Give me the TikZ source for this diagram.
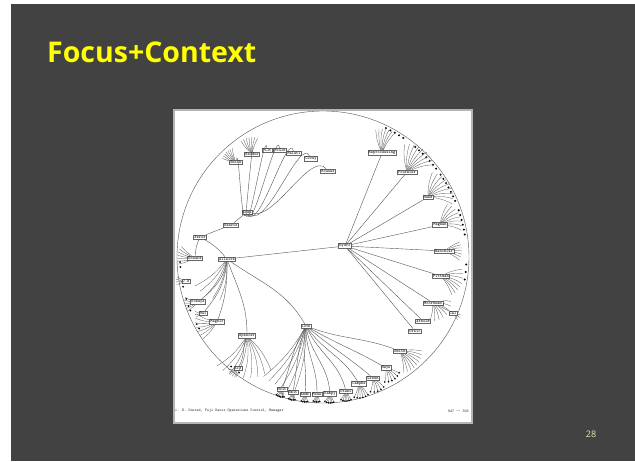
\documentclass[tikz,border=0pt]{standalone}
\usepackage{fontspec}
\newfontfamily\titlefont{Open Sans}
\usetikzlibrary{calc}
\definecolor{slidebg}{HTML}{424242}
\definecolor{titleyellow}{HTML}{FFFF00}
\definecolor{pagenum}{HTML}{E6E6B4}
\definecolor{edgegray}{HTML}{555555}
\definecolor{framegray}{HTML}{B4B4B4}
\newcommand{\myfan}[5]{%
  \foreach \a in {#2} {%
    \coordinate (#1-t\a) at ($(#1)+(\a:#3)$);
    \draw[leaf] (#1) to[bend left=#4] (#1-t\a);
    \ifx#5y\fill[black] (#1-t\a) circle (0.9);\fi
  }}
\begin{document}
\begin{tikzpicture}[x=1pt,y=-1pt,
  lbl/.style={draw=black!60, fill=white, line width=0.35pt, inner sep=0.8pt,
    font=\fontsize{4.2}{4.5}\selectfont\ttfamily, text=black},
  edge/.style={draw=edgegray, line width=0.4pt},
  leaf/.style={draw=edgegray, line width=0.3pt},
  captxt/.style={font=\fontsize{3.9}{4.5}\selectfont\ttfamily, text=black!85, inner sep=0}]
\useasboundingbox (0,0) rectangle (635,461);
\fill[white] (0,0) rectangle (635,461);
\fill[slidebg] (11,4) rectangle (635,461);
\node[anchor=base west, text=titleyellow, font=\titlefont\bfseries\fontsize{28.5}{30}\selectfont, inner sep=0] (title) at (47,62) {Focus+Context};
\node[anchor=base, text=pagenum, font=\titlefont\fontsize{9}{10}\selectfont, inner sep=0] (pg) at (591,437) {28};
% picture frame
\fill[framegray] (173,109) rectangle (473,424);
\fill[white] (175,111) rectangle (471,422);
\coordinate (ctr) at (323,257);
\begin{scope}
\clip (175,111) rectangle (471,422);
\draw[edge] (ctr) circle (146);
% small markers at the rim
\foreach \a in {-64,-62,-60,-58,-56,-50,-48,-46,-44,-42,-40,-38,-35,-33,-31,-29,-27,-25,-23,-19,-17,-15,-13,-11,-9,3,6,9} {
  \fill[black] ($(ctr)+(\a:143.5)$) circle (1.1);
}
\foreach \a in {178,176,170,168,163,160,158,152,150,130,128,126} {
  \fill[black] ($(ctr)+(\a:143)$) circle (1.0);
}
\end{scope}
% nodes
\node[lbl] (hydro) at (345,246) {Hydro};
\node[lbl] (allaire) at (227,259) {Allaire};
\node[lbl] (xerox) at (200,237) {Xerox};
\node[lbl] (howard) at (195,258) {Howard};
\node[lbl] (bearce) at (231,225) {Bearce};
\node[lbl] (ross) at (247,212) {Ross};
\node[lbl] (smitha) at (236,162) {Smith};
\node[lbl] (beddoe) at (252,154) {Beddoe};
\node[lbl] (pilt) at (267,150) {Pilt};
\node[lbl] (mcgin) at (280,150) {McGin};
\node[lbl] (maleti) at (294,153) {Maleti};
\node[lbl] (covey) at (311,159) {Covey};
\node[lbl] (rousse) at (328,171) {Rousse};
\node[lbl] (reproc) at (382,153) {Reprocessing};
\node[lbl] (fournier) at (407,172) {Fournier};
\node[lbl] (hand) at (428,197) {Hand};
\node[lbl] (magnan) at (440,225) {Magnan};
\node[lbl] (hanchier) at (444,251) {Hanchier};
\node[lbl] (pittman) at (441,276) {Pittman};
\node[lbl] (moorbeam) at (433,303) {Moorbeam};
\node[lbl] (cal) at (453,313) {Cal};
\node[lbl] (arnold) at (423,321) {Arnold};
\node[lbl] (orsic) at (415,331) {Orsic};
\node[lbl] (smithb) at (400,351) {Smith};
\node[lbl] (hays) at (386,368) {Hays};
\node[lbl] (green) at (373,378) {Green};
\node[lbl] (camphe) at (359,384) {Camphe};
\node[lbl] (otano) at (346,391) {Otano};
\node[lbl] (kampy) at (330,394) {Kampy};
\node[lbl] (moss) at (317,394) {Moss};
\node[lbl] (andr) at (305,394) {Andr};
\node[lbl] (smit) at (293,392) {Smit};
\node[lbl] (holt) at (282,389) {Holt};
\node[lbl] (love) at (306,326) {Love};
\node[lbl] (spencer) at (247,336) {Spencer};
\node[lbl] (eco) at (238,368) {Eco};
\node[lbl] (magnir) at (217,322) {Magnir};
\node[lbl] (hui) at (203,313) {Hui};
\node[lbl] (kobaya) at (198,302) {Kobaya};
\node[lbl] (jw) at (186,281) {J.W};
% caption
\node[captxt, anchor=west] (credit) at (175,411) {c. E. Conrad, Fuji Xerox Operations Control, Manager};
\node[captxt, anchor=east] (pages) at (469,411) {547 -- 305};
% main edges
\draw[edge] (xerox) -- (bearce);
\draw[edge] (bearce) -- (ross);
\draw[edge] (xerox) to[bend right=10] (howard);
\draw[edge] (xerox) to[bend left=10] (allaire);
\draw[edge] (allaire) -- (hydro);
\begin{scope}[looseness=0.7]
\draw[edge] (ross) to[out=-110,in=80] (smitha);
\draw[edge] (ross) to[out=-100,in=85] (beddoe);
\draw[edge] (ross) to[out=-85,in=95] (pilt);
\draw[edge] (ross) to[out=-75,in=100] (mcgin);
\draw[edge] (ross) to[out=-60,in=105] (maleti);
\draw[edge] (ross) to[out=-40,in=115] (covey);
\draw[edge] (ross) to[out=-15,in=130] (rousse);
\end{scope}
\foreach \n in {reproc,fournier,hand,magnan,hanchier,pittman,moorbeam,arnold,orsic}
  \draw[edge] (hydro) -- (\n);
\draw[edge] (moorbeam) -- (cal);
\draw[edge] (allaire) to[out=-100,in=40] (kobaya);
\draw[edge] (allaire) to[out=-95,in=50] (hui);
\draw[edge] (allaire) to[out=-90,in=70] (magnir);
\draw[edge] (allaire) to[out=-70,in=90] (spencer);
\draw[edge] (allaire) to[out=-35,in=120] (love);
\draw[edge] (spencer) to[out=-110,in=60] (eco);
\draw[edge] (love) to[out=-20,in=160] (smithb);
\draw[edge] (love) to[out=-30,in=150] (hays);
\draw[edge] (love) to[out=-40,in=140] (green);
\draw[edge] (love) to[out=-55,in=120] (camphe);
\draw[edge] (love) to[out=-65,in=105] (otano);
\draw[edge] (love) to[out=-80,in=95] (kampy);
\draw[edge] (love) to[out=-90,in=90] (moss);
\draw[edge] (love) to[out=-100,in=85] (andr);
\draw[edge] (love) to[out=-110,in=80] (smit);
\draw[edge] (love) to[out=-120,in=70] (holt);
% leaf fans
\myfan{allaire}{100,110,120,130,140}{42}{12}{n}
\myfan{love}{100,106,112,118,124,130}{66}{10}{n}
\myfan{spencer}{55,65,75,85,95,105,115,125,135}{42}{12}{n}
\myfan{smitha}{-165,-155,-145,-135,-125,-115,-105}{14}{8}{n}
\myfan{beddoe}{-130,-120,-110,-100,-90,-80,-70}{17}{8}{n}
\myfan{reproc}{-105,-97,-89,-81,-73,-65,-57}{24}{10}{n}
\myfan{fournier}{-95,-85,-75,-65,-55,-45,-35,-25,-15}{28}{10}{n}
\myfan{hand}{-80,-68,-56,-44,-32,-20,-8,4,16}{25}{10}{n}
\myfan{magnan}{-70,-58,-46,-34,-22,-10,2,14}{22}{10}{n}
\myfan{hanchier}{-30,-20,-10,0,10,20,30}{18}{5}{n}
\myfan{pittman}{-18,-6,6,20,30,40,50,60}{22}{8}{n}
\myfan{moorbeam}{-5,10,25,40,55,70,85,100}{18}{8}{n}
\myfan{cal}{15,35,55}{8}{5}{n}
\myfan{smithb}{0,10,20,30,40,50,60,70,80}{22}{8}{n}
\myfan{hays}{20,35,50,65,80,95}{14}{6}{y}
\myfan{green}{40,55,70,85,100}{14}{6}{y}
\myfan{camphe}{50,62,74,86,98,110}{14}{6}{y}
\myfan{otano}{60,72,84,96,108,120}{10}{5}{y}
\myfan{kampy}{65,77,89,101,113,125}{9}{5}{y}
\myfan{moss}{70,82,94,106,118}{8}{5}{y}
\myfan{andr}{70,82,94,106,118}{8}{5}{y}
\myfan{smit}{75,87,99,111,123}{8}{5}{y}
\myfan{holt}{75,87,99,111,123,135}{8}{5}{y}
\myfan{eco}{110,125,140,155,170}{10}{5}{n}
\myfan{magnir}{130,142,154,166,178,190,202}{22}{8}{n}
\myfan{hui}{150,170,190}{8}{5}{n}
\myfan{kobaya}{140,152,164,176,188,200}{14}{6}{n}
\myfan{jw}{160,175,190,205}{10}{5}{n}
\myfan{howard}{160,170,180,190,200,210,220}{18}{6}{n}
\end{tikzpicture}
\end{document}
